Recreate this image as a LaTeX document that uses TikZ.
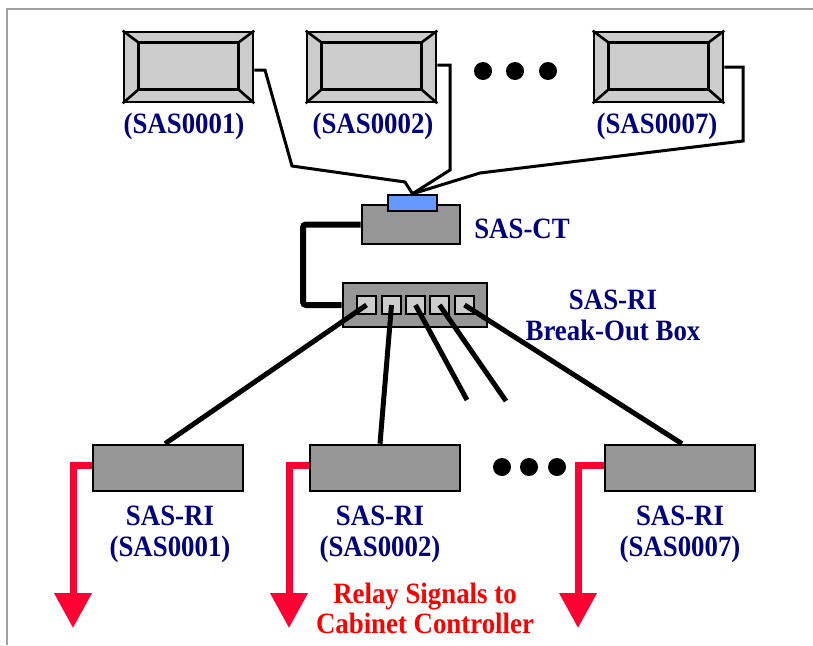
\documentclass[tikz,border=0pt]{standalone}
\usepackage{fontspec}
\setmainfont{Liberation Serif}
\newfontfamily\lblfont[FakeStretch=0.91]{Liberation Serif}
\usetikzlibrary{calc,arrows.meta}
\definecolor{navy}{RGB}{0,0,128}
\definecolor{boxgray}{RGB}{150,150,150}
\definecolor{lightgray}{RGB}{204,204,204}
\definecolor{connblue}{RGB}{102,153,255}
\definecolor{arrred}{RGB}{255,0,51}
\definecolor{txtred}{RGB}{255,0,0}
\definecolor{framegray}{RGB}{160,160,160}
\newcommand\bevelbox[1]{%
  \draw[line width=2.6pt] ($(#1.north west)+(16,12)$) rectangle ($(#1.south east)+(-16,-14)$);
  \draw[line width=2.6pt] (#1.north west) -- ($(#1.north west)+(16,12)$)
        (#1.north east) -- ($(#1.north east)+(-16,12)$)
        (#1.south west) -- ($(#1.south west)+(16,-14)$)
        (#1.south east) -- ($(#1.south east)+(-16,-14)$);}
\tikzset{
  monitor/.style={draw, line width=2.6pt, fill=lightgray, rectangle, inner sep=0pt, minimum width=129pt, minimum height=70pt},
  graybox/.style={draw, line width=2.6pt, fill=boxgray, rectangle, inner sep=0pt},
  portbox/.style={draw, line width=2.4pt, fill=lightgray, rectangle, inner sep=0pt, minimum width=19pt, minimum height=18pt},
  cable/.style={line width=3pt, line join=miter},
  thickcable/.style={line width=6pt, rounded corners=3pt},
  portline/.style={line width=5pt},
  redarrow/.style={draw=arrred, line width=7pt, -{Triangle[width=36pt,length=35pt]}},
  lbl/.style={text=navy, font=\lblfont\fontsize{29.5}{31}\selectfont\bfseries, align=center, inner sep=0pt},
  redlbl/.style={text=txtred, font=\lblfont\fontsize{29.5}{30}\selectfont\bfseries, align=center, inner sep=0pt},
  dot/.style={circle, fill=black, inner sep=0pt, minimum size=18pt}
}
\begin{document}
\begin{tikzpicture}[x=1pt,y=-1pt]
\useasboundingbox (0,0) rectangle (813,645);
\draw[framegray, line width=2pt] (7,645) -- (7,9) -- (813,9);

% top monitors
\node[monitor] (m1) at (188.5,67) {};
\node[monitor] (m2) at (371.5,67) {};
\node[monitor] (m3) at (658.5,67) {};
\bevelbox{m1}\bevelbox{m2}\bevelbox{m3}
\node[dot] (d1) at (483,71) {};
\node[dot] (d2) at (515,71) {};
\node[dot] (d3) at (548,71) {};
\node[lbl] (l1) at (184,126) {(SAS0001)};
\node[lbl] (l2) at (373,126) {(SAS0002)};
\node[lbl] (l3) at (657,126) {(SAS0007)};

% SAS-CT
\node[graybox, minimum width=98pt, minimum height=39pt] (ct) at (411,224.5) {};
\node[draw, line width=2.4pt, fill=connblue, rectangle, inner sep=0pt, minimum width=49pt, minimum height=16pt] (cn) at (412.5,203) {};
\node[lbl] (lct) at (522,229) {SAS-CT};

% cables to SAS-CT
\draw[cable] ($(m1.east)+(0,3)$) -- (265,70) -- (292,166) -- (405,182) -- (cn.north);
\draw[cable] ($(m2.east)+(0,-2)$) -- (450,65) -- (450,170) -- (cn.north);
\draw[cable] (m3.east) -- (743,67) -- (743,141) -- (480,173) -- (cn.north);

% break-out box
\node[graybox, minimum width=144pt, minimum height=44pt] (bo) at (415,305) {};
\draw[thickcable] (ct.west) -- (303,224.5) -- (303,305) -- (bo.west);
\node[portbox] (p1) at (366.5,305) {};
\node[portbox] (p2) at (391.5,305) {};
\node[portbox] (p3) at (415.5,305) {};
\node[portbox] (p4) at (439.5,305) {};
\node[portbox] (p5) at (464.5,305) {};
\node[lbl] (lbo) at (613,315) {SAS-RI\\Break-Out Box};

% SAS-RI boxes
\node[graybox, minimum width=150pt, minimum height=46pt] (ri1) at (168,468) {};
\node[graybox, minimum width=150pt, minimum height=46pt] (ri2) at (385,468) {};
\node[graybox, minimum width=150pt, minimum height=46pt] (ri3) at (680,468) {};
\node[dot] (d4) at (502,467) {};
\node[dot] (d5) at (529,467) {};
\node[dot] (d6) at (557,467) {};

\coordinate (f1) at (467,400);
\coordinate (f2) at (506,401);
\draw[portline] (p1.center) -- ($(ri1.north)+(-3,0)$);
\draw[portline] (p2.center) -- ($(ri2.north)+(-5,0)$);
\draw[portline] (p3.center) -- (f1);
\draw[portline] (p4.center) -- (f2);
\draw[portline] (p5.center) -- ($(ri3.north)+(2,0)$);

\node[lbl] (lr1) at (170,534) {SAS-RI\\(SAS0001)};
\node[lbl] (lr2) at (380,534) {SAS-RI\\(SAS0002)};
\node[lbl] (lr3) at (680,534) {SAS-RI\\(SAS0007)};

% red arrows
\coordinate (a1) at (73,628);
\coordinate (a2) at (289,628);
\coordinate (a3) at (578,628);
\draw[redarrow] ($(ri1.west)+(0,-3)$) -| (a1);
\draw[redarrow] ($(ri2.west)+(0,-3)$) -| (a2);
\draw[redarrow] ($(ri3.west)+(0,-3)$) -| (a3);

\node[redlbl] (rl) at (425,608) {Relay Signals to\\Cabinet Controller};
\end{tikzpicture}
\end{document}
